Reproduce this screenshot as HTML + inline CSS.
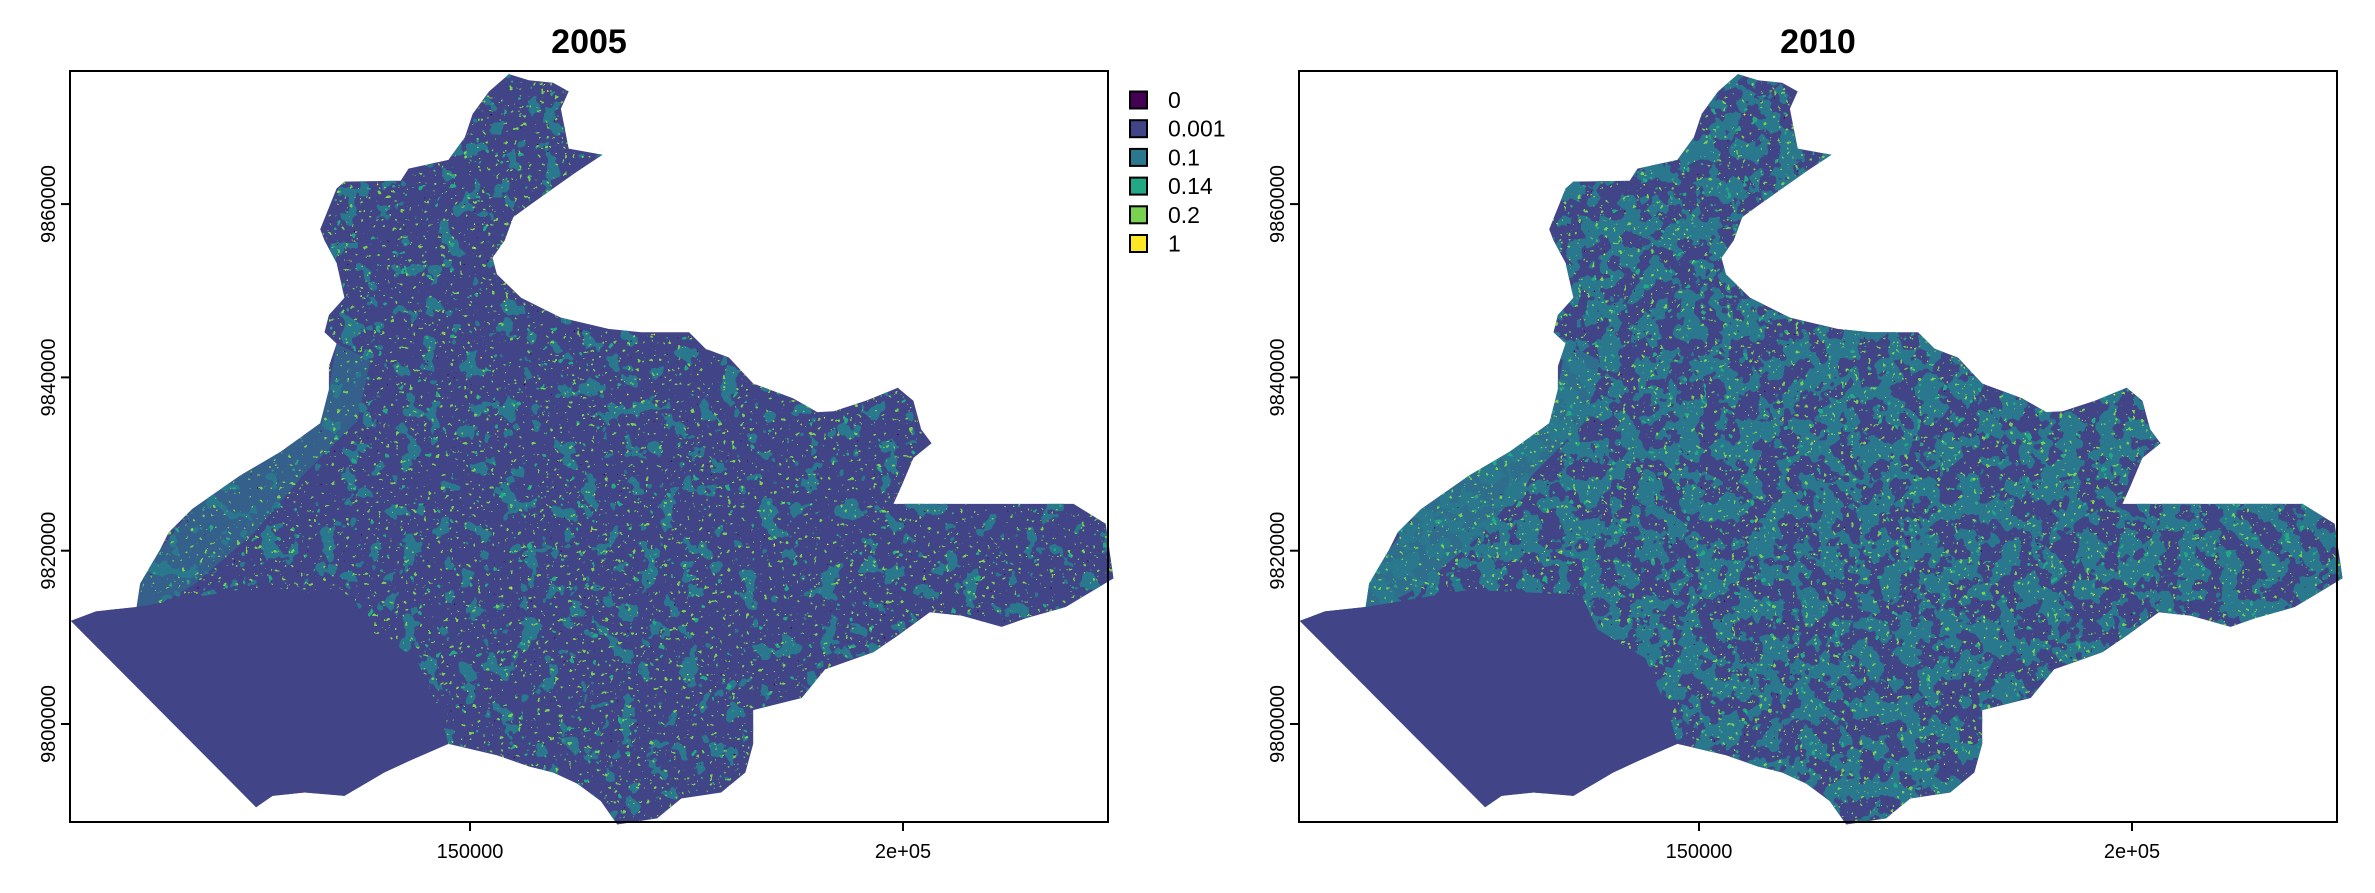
<!DOCTYPE html>
<html>
<head>
<meta charset="utf-8">
<style>
html,body{margin:0;padding:0;background:#fff;}
svg{display:block;font-family:"Liberation Sans",Arial,sans-serif;}
filter{color-interpolation-filters:sRGB;}
</style>
</head>
<body>
<svg id="chart" width="2375" height="893" viewBox="0 0 2375 893" xmlns="http://www.w3.org/2000/svg">
<defs id="defs"></defs>
</svg>
<script>
// ---- data ----
const panelTitles = ['2005', '2010'];
const legendLabels = ['0', '0.001', '0.1', '0.14', '0.2', '1'];
const legendColors = ['#440154', '#414487', '#2A788E', '#22A884', '#7AD151', '#FDE725'];
const xTicks = [150000, 200000];
const xTickLabels = ['150000', '2e+05'];
const yTicks = [9800000, 9820000, 9840000, 9860000];
const yTickLabels = ['9800000', '9820000', '9840000', '9860000'];
// district outline (km easting / km northing)
const outlineX = [103.9,106.8,111.5,111.9,114.2,115.2,117.9,123.5,128.1,132.7,133.7,133.7,134.6,133.2,133.7,135.5,134.6,133.2,132.7,134.6,135.5,142.0,142.9,147.5,149.4,150.3,152.2,154.5,156.8,159.6,161.4,160.5,161.4,165.3,162.3,159.6,156.8,155.0,154.0,152.6,153.1,155.9,160.5,166.0,169.8,175.3,177.2,179.9,182.7,187.3,190.1,192.0,195.7,199.4,201.2,202.1,203.3,201.2,199.8,198.9,219.7,223.4,224.3,218.8,214.2,211.4,206.8,203.1,199.4,196.6,191.0,188.3,182.7,182.7,181.8,179.0,174.4,171.6,167.0,165.1,162.4,159.6,156.8,153.1,147.5,142.9,140.1,135.5,130.9,127.2,125.3];
const outlineY = [9811.9,9813.0,9813.5,9816.2,9820.1,9822.1,9824.8,9828.7,9831.4,9834.7,9838.6,9841.3,9843.9,9845.2,9847.2,9849.2,9853.2,9855.8,9857.1,9861.8,9862.6,9862.7,9864.1,9865.1,9867.7,9870.4,9873.0,9875.0,9874.3,9874.0,9873.0,9871.0,9866.4,9865.7,9863.7,9861.8,9859.8,9858.5,9855.8,9853.8,9851.9,9849.2,9846.9,9845.6,9845.2,9845.2,9843.3,9842.3,9839.3,9837.6,9836.0,9836.1,9837.3,9838.8,9837.3,9834.0,9832.4,9830.7,9827.4,9825.4,9825.4,9823.1,9816.8,9813.5,9812.2,9811.2,9812.5,9812.9,9810.2,9808.3,9806.3,9803.0,9801.6,9797.7,9794.4,9792.1,9791.4,9789.1,9788.4,9791.1,9793.1,9794.4,9795.1,9796.4,9797.7,9795.7,9794.4,9791.7,9792.1,9791.7,9790.4];
// uniform south-west block
const plainX = [103.9,106.8,111.5,123.5,136.4,138.3,143.8,146.6,147.5,142.9,140.1,135.5,130.9,127.2,125.3];
const plainY = [9811.9,9813.0,9813.5,9815.5,9814.9,9810.9,9807.6,9801.0,9797.7,9795.7,9794.4,9791.7,9792.1,9791.7,9790.4];
// western teal strip
const stripX = [111.5,111.9,114.2,117.9,123.5,128.1,132.7,133.7,134.6,138.5,137.0,131.0,125.0,118.0,114.0];
const stripY = [9813.5,9816.2,9820.1,9824.8,9828.7,9831.4,9834.7,9838.6,9843.9,9842.0,9835.0,9829.0,9822.0,9816.0,9813.8];
// layer coverage per year (noise table thresholds)
const tealCover = [6, 10];
const greenCover = [3, 3];
const stripOpacity = [0.55, 0.8];

// ---- layout ----
const svg = document.getElementById('chart');
const defs = document.getElementById('defs');
const NS = 'http://www.w3.org/2000/svg';
const XMIN = 103810, XMAX = 223670, YMIN = 9788690, YMAX = 9875360;
const PW = 1038, PH = 751, TOP = 71;
const panelLeft = [70, 1299];
function sx(p, x){ return panelLeft[p] + (x - XMIN) * PW / (XMAX - XMIN); }
function sy(y){ return TOP + (YMAX - y) * PH / (YMAX - YMIN); }
function mk(tag, attrs, parent){ const e = document.createElementNS(NS, tag); for (const k in attrs) e.setAttribute(k, attrs[k]); (parent||svg).appendChild(e); return e; }
function pts(p, xs, ys){ return xs.map((x,i)=> sx(p, x*1000).toFixed(1)+','+sy(ys[i]*1000).toFixed(1)).join(' '); }

function tableStr(n, total){ const a=[]; for(let i=0;i<total;i++) a.push(i>=total-n?1:0); return a.join(' '); }
function hexToRgb(h){ return [1,3,5].map(i=>(parseInt(h.substr(i,2),16)/255).toFixed(3)); }
function addFilter(id, freq, seed, color, table, oct){
  const f = mk('filter', {id:id, x:0, y:0, width:2375, height:893, filterUnits:'userSpaceOnUse', 'color-interpolation-filters':'sRGB'}, defs);
  mk('feTurbulence', {type:'fractalNoise', baseFrequency:freq, numOctaves:oct, seed:seed, result:'n'}, f);
  const c = hexToRgb(color);
  mk('feColorMatrix', {in:'n', type:'matrix', values:`0 0 0 0 ${c[0]} 0 0 0 0 ${c[1]} 0 0 0 0 ${c[2]} 1.6 0 0 0 -0.3`}, f);
  const ct = mk('feComponentTransfer', {}, f);
  mk('feFuncA', {type:'discrete', tableValues:table}, ct);
}

for (let p = 0; p < 2; p++) {
  addFilter('teal'+p, '0.05', 3+p*7, legendColors[2], tableStr(tealCover[p], 20), 3);
  addFilter('green'+p, '0.22', 11+p*5, legendColors[4], tableStr(greenCover[p], 20), 2);
  addFilter('sea'+p, '0.12', 21+p*3, legendColors[3], tableStr(2, 20), 2);
  addFilter('yel'+p, '0.3', 31+p*2, legendColors[5], tableStr(1, 30), 1);
  addFilter('dark'+p, '0.3', 41+p*2, legendColors[0], tableStr(1, 30), 1);
  const cp = mk('clipPath', {id:'clip'+p}, defs);
  mk('polygon', {points: pts(p, outlineX, outlineY)}, cp);

  const g = mk('g', {});
  
  

  const t = mk('text', {x: panelLeft[p] + 519, y: 53, 'text-anchor':'middle', 'font-size':34, 'font-weight':'bold', fill:'#000'}, g);
  t.textContent = panelTitles[p];
  
  

  const base = mk('polygon', {points: pts(p, outlineX, outlineY), fill: legendColors[1]}, g);
  
  

  const tex = mk('g', {'clip-path':'url(#clip'+p+')'}, g);
  
  
  const strip = mk('polygon', {points: pts(p, stripX, stripY), fill: legendColors[2], opacity: stripOpacity[p]}, tex);
  
  
  ['teal','sea','green','yel','dark'].forEach(n=>{
    mk('rect', {x: panelLeft[p], y: TOP, width: PW, height: PH, fill:'#fff', filter:'url(#'+n+p+')'}, tex);
  });
  const plain = mk('polygon', {points: pts(p, plainX, plainY), fill: legendColors[1]}, tex);
  
  

  const frame = mk('rect', {x: panelLeft[p], y: TOP, width: PW, height: PH, fill:'none', stroke:'#000', 'stroke-width':2}, g);
  
  

  xTicks.forEach((v,i)=>{
    const x = sx(p, v);
    const tk = mk('line', {x1:x, x2:x, y1:TOP+PH, y2:TOP+PH+9, stroke:'#000', 'stroke-width':2}, g);
    
    
    const lb = mk('text', {x:x, y:858, 'text-anchor':'middle', 'font-size':20, fill:'#000'}, g);
    lb.textContent = xTickLabels[i];
    
    
  });
  yTicks.forEach((v,i)=>{
    const y = sy(v);
    const tk = mk('line', {x1:panelLeft[p]-9, x2:panelLeft[p], y1:y, y2:y, stroke:'#000', 'stroke-width':2}, g);
    
    
    const lx = panelLeft[p] - 15;
    const lb = mk('text', {x:lx, y:y, 'text-anchor':'middle', 'font-size':20, fill:'#000', transform:`rotate(-90 ${lx} ${y})`}, g);
    lb.textContent = yTickLabels[i];
    
    
  });
}

// legend
const lg = mk('g', {});


legendLabels.forEach((lab, i)=>{
  const cy = 100 + i * 28.7;
  const sq = mk('rect', {x:1130, y:cy-8.5, width:17, height:17, fill:legendColors[i], stroke:'#000', 'stroke-width':2}, lg);
  
  
  const tx = mk('text', {x:1168, y:cy+8, 'font-size':23, fill:'#000'}, lg);
  tx.textContent = lab;
  
  
});
</script>
</body>
</html>
